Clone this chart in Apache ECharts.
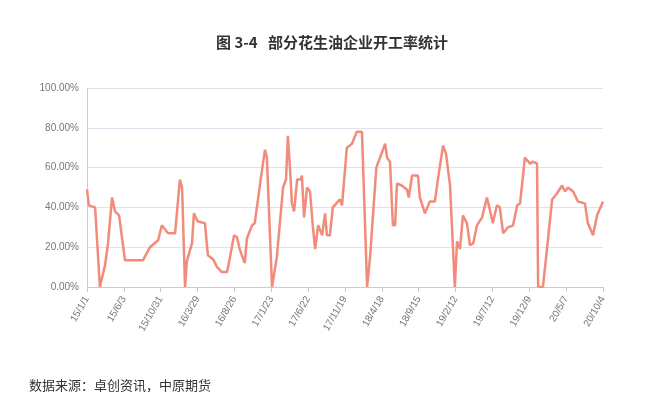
<!DOCTYPE html>
<html lang="zh">
<head>
    <meta charset="UTF-8">
    <title>部分花生油企业开工率统计</title>
    <script src="https://cdn.jsdelivr.net/npm/echarts@6/dist/echarts.min.js"></script>
    <style>
        html, body { margin: 0; padding: 0; background: #fff; }
        #main { width: 664px; height: 418px; }
    </style>
</head>
<body>
<div id="main"></div>
<script>
    // x轴刻度标签（每10个位置一个）
    var tickLabels = ['15/1/1', '15/6/3', '15/10/31', '16/3/29', '16/8/26', '17/1/23', '17/6/22', '17/11/19',
        '18/4/18', '18/9/15', '19/2/12', '19/7/12', '19/12/9', '20/5/7', '20/10/4'];
    var yTicks = [0, 20, 40, 60, 80, 100];

    // 位置（以刻度间隔的1/10为单位）
    var pos = [0, 0.5, 1, 2.2, 3.5, 4.9, 5.7, 6.8, 7.6, 8.7, 10.3, 15.2, 17.1, 19.3, 20.3, 22, 23.9, 25.2, 25.8, 26.6,
        27.1, 28.5, 29, 30, 32, 32.8, 34.2, 35.3, 36.6, 38, 38.8, 39.9, 40.7, 41.5, 42.8, 43.4, 44.8, 45.5, 47.5, 48.3,
        48.8, 50.2, 51.5, 53.2, 54, 54.5, 55.1, 55.6, 56.2, 57, 58, 58.3, 58.9, 59.7, 60.5, 61.3, 61.9, 62.7, 63.8, 64.6,
        65.1, 65.9, 66.7, 68.6, 69.2, 70.5, 71.9, 73.2, 74.6, 76, 76.8, 78.5, 79.5, 80.9, 81.4, 82.2, 83, 83.6, 84.1, 85.4,
        86.8, 87.3, 88.2, 89.8, 90.3, 91.7, 93, 94.4, 95.2, 96.6, 97.4, 98.5, 99.8, 100.4, 101.2, 102, 103.1, 103.9, 104.8, 105.8,
        107.2, 108.5, 109.3, 110.1, 111.2, 112, 112.9, 114.2, 115.6, 116.7, 117.5, 118.3, 118.8, 120.2, 121, 122.1, 122.4, 123.7,
        124.8, 126.2, 127.5, 128.9, 129.7, 130.5, 131.9, 133.2, 135.1, 135.9, 137.3, 138.4, 140];
    // 开工率（%）
    var rate = [49, 41, 42, 40, 0, 11, 22, 45, 38, 36, 13.5, 13.5, 20, 23.5, 31, 27, 27, 54, 50, 0,
        13, 22, 37, 33, 32, 16, 14, 10, 7.5, 7.5, 15, 26, 25, 18.5, 12, 24.5, 31, 32, 59, 69,
        65, 0, 15, 50, 54, 76, 59, 42, 38, 54, 54, 56, 35, 50, 48, 30, 19, 31, 26, 37,
        26, 26, 40, 44, 41, 70, 72, 78, 78, 0, 15, 60, 65, 72, 65, 63, 31, 31, 52, 51,
        49, 45, 56, 56, 45, 37, 43, 43, 54, 71, 67, 51, 0, 23, 19, 36, 32, 21, 22, 31,
        35, 45, 39, 32, 41, 40, 27, 30, 31, 41, 42, 56, 65, 62, 63, 62, 0, 0,
        19, 44, 47, 51, 48, 50, 48, 43, 42, 32, 26, 36, 43];

    var seriesData = pos.map(function (p, i) { return [p, rate[i]]; });

    var chart = echarts.init(document.getElementById('main'));
    chart.setOption({
        animation: false,
        title: [{
            text: '图 3-4   部分花生油企业开工率统计',
            left: 'center',
            top: 30,
            textStyle: { fontFamily: 'Noto Sans CJK SC', fontSize: 15, fontWeight: 'bold', color: '#333' }
        }, {
            text: '数据来源：卓创资讯，中原期货',
            left: 24,
            top: 374,
            textStyle: { fontFamily: 'Noto Sans CJK SC', fontSize: 13, fontWeight: 'normal', color: '#333' }
        }],
        grid: { left: 87, right: 61, top: 88, bottom: 131 },
        xAxis: {
            type: 'value',
            min: 0,
            max: 140,
            interval: 10,
            axisLine: { show: true, lineStyle: { color: '#c8ccd6' } },
            axisTick: { show: true, lineStyle: { color: '#c8ccd6' } },
            splitLine: { show: false },
            axisLabel: {
                rotate: 60,
                fontSize: 10,
                color: '#777',
                margin: 10,
                formatter: function (v) { return tickLabels[Math.round(v / 10)] || ''; }
            }
        },
        yAxis: {
            type: 'value',
            min: yTicks[0],
            max: yTicks[yTicks.length - 1],
            interval: 20,
            axisLine: { show: true, lineStyle: { color: '#c8ccd6' } },
            axisTick: { show: false },
            splitLine: { lineStyle: { color: '#dde3ee' } },
            axisLabel: {
                fontSize: 10,
                color: '#777',
                formatter: function (v) { return v.toFixed(2) + '%'; }
            }
        },
        series: [{
            type: 'line',
            data: seriesData,
            showSymbol: false,
            lineStyle: { color: '#f28b7c', width: 2.5 },
            itemStyle: { color: '#f28b7c' }
        }]
    });
</script>
</body>
</html>
